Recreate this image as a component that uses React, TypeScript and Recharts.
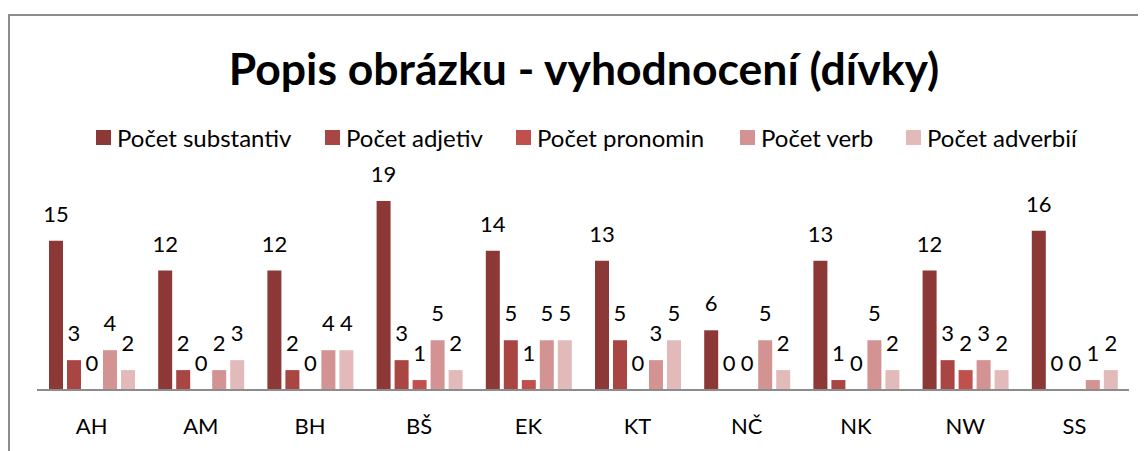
import React from 'react'
import { BarChart, Bar, XAxis, YAxis, LabelList } from 'recharts'

// jména dívek
const categories = ['AH', 'AM', 'BH', 'BŠ', 'EK', 'KT', 'NČ', 'NK', 'NW', 'SS']

const substantiva = [15, 12, 12, 19, 14, 13, 6, 13, 12, 16]
const adjektiva = [3, 2, 2, 3, 5, 5, 0, 1, 3, 0]
const pronomina = [0, 0, 0, 1, 1, 0, 0, 0, 2, 0]
const verba = [4, 2, 4, 5, 5, 3, 5, 5, 3, 1]
const adverbia = [2, 3, 4, 2, 5, 5, 2, 2, 2, 2]

const seriesNames = ['Počet substantiv', 'Počet adjetiv', 'Počet pronomin', 'Počet verb', 'Počet adverbií']
const seriesKeys = ['subst', 'adj', 'pron', 'verb', 'adv']
const colors = ['#8C3836', '#A94543', '#C0504D', '#D39392', '#E3BABA']

// legend marker x positions (page px)
const legendX = [96, 325, 516, 740, 906]

const data = categories.map((c, i) => ({
  name: c,
  subst: substantiva[i],
  adj: adjektiva[i],
  pron: pronomina[i],
  verb: verba[i],
  adv: adverbia[i],
}))

const FONT = 'Lato, "Open Sans", sans-serif'

export default function App() {
  return (
    <div style={{ position: 'relative', width: 1138, height: 443, fontFamily: FONT }}>
      <div
        style={{
          position: 'absolute',
          left: 0,
          top: 6,
          width: 1138,
          height: 437,
          borderLeft: '2px solid #8c8c8c',
          borderTop: '2px solid #8c8c8c',
          boxSizing: 'border-box',
        }}
      />
      <div
        style={{
          position: 'absolute',
          left: 0,
          top: 31,
          width: 1152,
          textAlign: 'center',
          fontSize: 44.5,
          fontWeight: 700,
          color: '#000',
          lineHeight: '58px',
        }}
      >
        Popis obrázku - vyhodnocení (dívky)
      </div>
      {seriesNames.map((n, i) => (
        <div
          key={n}
          style={{
            position: 'absolute',
            left: legendX[i] - 8,
            top: 114,
            height: 30,
            display: 'flex',
            alignItems: 'center',
            fontSize: 24,
            color: '#000',
            whiteSpace: 'nowrap',
          }}
        >
          <span style={{ display: 'inline-block', width: 15, height: 15, background: colors[i], marginRight: 6 }} />
          {n}
        </div>
      ))}
      <div style={{ position: 'absolute', left: 0, top: 6 }}>
        <BarChart
          width={1138}
          height={437}
          data={data}
          margin={{ top: 177, right: 17, bottom: 11, left: 29 }}
          barGap={4}
          barSize={14}
        >
          <XAxis
            dataKey="name"
            axisLine={{ stroke: '#8c8c8c', strokeWidth: 2 }}
            tickLine={false}
            height={50}
            tick={{ fontSize: 22, fill: '#000', fontFamily: FONT }}
            dy={20}
          />
          <YAxis hide domain={[0, 20]} />
          {seriesKeys.map((k, i) => (
            <Bar
              key={k}
              dataKey={k}
              name={seriesNames[i]}
              fill={colors[i]}
              minPointSize={0.001}
              isAnimationActive={false}
            >
              <LabelList
                dataKey={k}
                position="top"
                offset={19}
                style={{ fontSize: 22, fill: '#000', fontFamily: FONT }}
              />
            </Bar>
          ))}
        </BarChart>
      </div>
    </div>
  )
}
